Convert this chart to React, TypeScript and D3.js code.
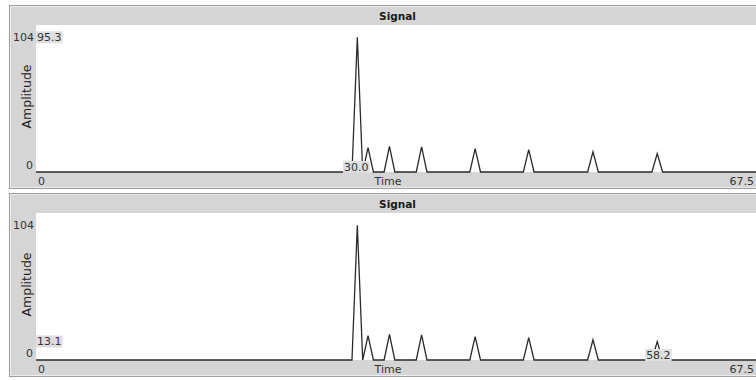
import { useEffect, useRef } from "react";
import * as d3 from "d3";

// signal samples (time, amplitude)
const times = [0, 29.5, 30, 30.5, 31, 31.5, 32.5, 33, 33.5, 35.5, 36, 36.5, 40.5, 41, 41.5, 45.5, 46, 46.5, 51.5, 52, 52.5, 57.5, 58, 58.5, 67.5];
const amplitude = [0, 0, 95.3, 0, 17.2, 0, 0, 18.2, 0, 0, 17.7, 0, 0, 16.6, 0, 0, 15.9, 0, 0, 14.3, 0, 0, 13.1, 0, 0];

const xTicks = [0, 67.5];
const yTicks = [0, 104];
const titles = ["Signal", "Signal"];
// cursor readouts per panel
const cursorTimes = [30.0, 58.2];
const cursorValues = [95.3, 13.1];

const FONT = "DejaVu Sans, Verdana, sans-serif";

export default function App() {
  const svgRef = useRef<SVGSVGElement>(null);

  useEffect(() => {
    const width = 756;
    const height = 380;
    const svg = d3.select(svgRef.current);
    svg.attr("viewBox", `0 0 ${width} ${height}`);
    svg.selectAll("*").remove();

    const data = times.map((t, i) => ({ t, v: amplitude[i] }));
    const x = d3.scaleLinear().domain([xTicks[0], xTicks[1]]).range([36, 759]);

    titles.forEach((title, i) => {
      const top = 5 + i * 188;
      const plotTop = 20;
      const plotBottom = 167;
      const g = svg.append("g").attr("transform", `translate(0,${top})`);
      const y = d3.scaleLinear().domain([yTicks[0], yTicks[1]]).range([plotBottom, plotTop]);

      // frame
      g.append("rect")
        .attr("x", 9.5)
        .attr("y", 0.5)
        .attr("width", 760)
        .attr("height", 183)
        .attr("fill", "#d5d5d5")
        .attr("stroke", "#9c9c9c");
      g.append("rect")
        .attr("x", 10.5)
        .attr("y", 1.5)
        .attr("width", 760)
        .attr("height", 181)
        .attr("fill", "none")
        .attr("stroke", "#ececec");

      // plot area
      g.append("rect")
        .attr("x", x.range()[0])
        .attr("y", plotTop)
        .attr("width", x.range()[1] - x.range()[0])
        .attr("height", plotBottom - plotTop)
        .attr("fill", "#ffffff");

      g.append("text")
        .attr("x", (x.range()[0] + x.range()[1]) / 2)
        .attr("y", 10.5)
        .attr("text-anchor", "middle")
        .attr("dominant-baseline", "central")
        .attr("font-family", FONT)
        .attr("font-size", 10.5)
        .attr("font-weight", "bold")
        .attr("fill", "#1a1a1a")
        .text(title);

      const line = d3
        .line<{ t: number; v: number }>()
        .x((d) => x(d.t))
        .y((d) => y(d.v));

      g.append("path")
        .datum(data)
        .attr("d", line)
        .attr("fill", "none")
        .attr("stroke", "#2a2a2a")
        .attr("stroke-width", 1.3)
        .attr("stroke-linejoin", "miter");

      // y tick labels
      g.append("text")
        .attr("x", 34)
        .attr("y", y(yTicks[1]) + 12)
        .attr("text-anchor", "end")
        .attr("dominant-baseline", "central")
        .attr("font-family", FONT)
        .attr("font-size", 11)
        .attr("fill", "#333")
        .text(String(yTicks[1]));
      g.append("text")
        .attr("x", 33)
        .attr("y", y(yTicks[0]) - 7)
        .attr("text-anchor", "end")
        .attr("dominant-baseline", "central")
        .attr("font-family", FONT)
        .attr("font-size", 11)
        .attr("fill", "#333")
        .text(String(yTicks[0]));

      g.append("text")
        .attr("transform", `translate(26,${(plotTop + plotBottom) / 2 - 2}) rotate(-90)`)
        .attr("text-anchor", "middle")
        .attr("dominant-baseline", "central")
        .attr("font-family", FONT)
        .attr("font-size", 12.5)
        .attr("fill", "#222")
        .text("Amplitude");

      // x tick labels
      const xLabelY = plotBottom + 9.5;
      g.append("text")
        .attr("x", x(xTicks[0]) + 2)
        .attr("y", xLabelY)
        .attr("dominant-baseline", "central")
        .attr("font-family", FONT)
        .attr("font-size", 11)
        .attr("fill", "#333")
        .text(String(xTicks[0]));
      g.append("text")
        .attr("x", 754)
        .attr("y", xLabelY)
        .attr("text-anchor", "end")
        .attr("dominant-baseline", "central")
        .attr("font-family", FONT)
        .attr("font-size", 11)
        .attr("fill", "#333")
        .text(String(xTicks[1]));
      g.append("text")
        .attr("x", 388)
        .attr("y", xLabelY)
        .attr("text-anchor", "middle")
        .attr("dominant-baseline", "central")
        .attr("font-family", FONT)
        .attr("font-size", 11)
        .attr("fill", "#333")
        .text("Time");

      // cursor readouts
      const readout = (tx: number, ty: number, anchor: string, label: string) => {
        const rg = g.append("g");
        const bg = rg.append("rect").attr("fill", "#dedede");
        const txt = rg
          .append("text")
          .attr("x", tx)
          .attr("y", ty)
          .attr("text-anchor", anchor)
          .attr("dominant-baseline", "central")
          .attr("font-family", FONT)
          .attr("font-size", 11)
          .attr("fill", "#333")
          .text(label);
        const box = (txt.node() as SVGTextElement).getBBox();
        bg.attr("x", box.x - 1)
          .attr("y", ty - 6)
          .attr("width", box.width + 2)
          .attr("height", 12);
      };
      readout(37, y(cursorValues[i]), "start", cursorValues[i].toFixed(1));
      readout(x(cursorTimes[i]) - 1, plotBottom - 5, "middle", cursorTimes[i].toFixed(1));
    });
  }, []);

  return (
    <svg
      ref={svgRef}
      width={756}
      height={380}
      style={{ position: "absolute", left: 0, top: 0, background: "#fff" }}
    />
  );
}
